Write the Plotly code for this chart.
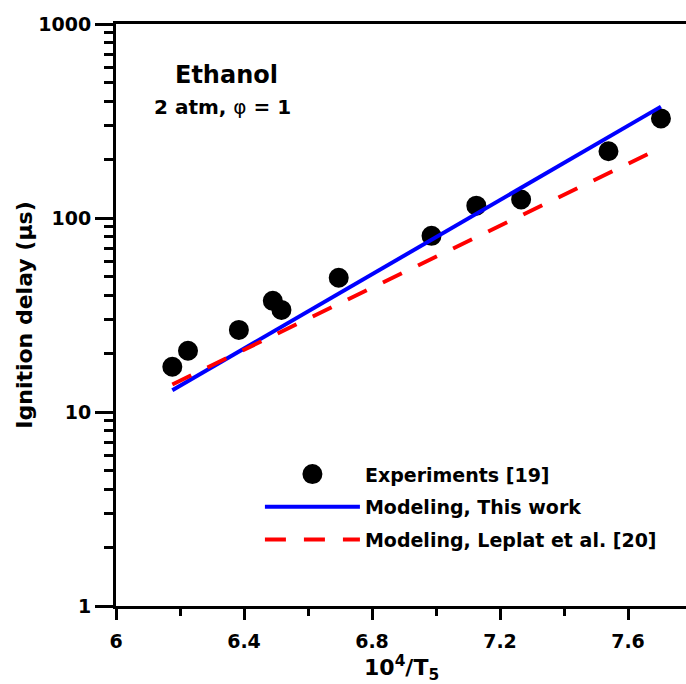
import plotly.graph_objects as go

# Experimental data (10^4/T5, ignition delay in microseconds)
exp_x = [6.176, 6.225, 6.384, 6.490, 6.517, 6.696, 6.986, 7.126, 7.266, 7.539, 7.703]
exp_y = [17.1, 20.7, 26.5, 37.4, 33.6, 49.2, 80.9, 115.8, 124.5, 220.8, 326.0]

# Modeling, this work
model_x = [6.176, 6.800, 7.703]
model_y = [12.96, 51.1, 375.0]

# Modeling, Leplat et al.
leplat_x = [6.176, 6.800, 7.703]
leplat_y = [13.87, 43.6, 230.0]

x_ticks = [6, 6.4, 6.8, 7.2, 7.6]
x_ticklabels = ["6", "6.4", "6.8", "7.2", "7.6"]
y_ticks = [1, 10, 100, 1000]
y_ticklabels = ["1", "10", "100", "1000"]

FONT = "DejaVu Sans"

fig = go.Figure()
fig.add_trace(go.Scatter(
    x=exp_x, y=exp_y, mode="markers", name="<b>Experiments [19]</b>",
    legendgroup="a",
    marker=dict(color="black", size=15, line=dict(color="black", width=5)),
))
fig.add_trace(go.Scatter(
    x=model_x, y=model_y, mode="lines", name="<b>Modeling, This work</b>",
    legendgroup="b",
    line=dict(color="#0000ff", width=4),
))
fig.add_trace(go.Scatter(
    x=leplat_x, y=leplat_y, mode="lines", name="<b>Modeling, Leplat et al. [20]</b>",
    legendgroup="c",
    line=dict(color="#ff0000", width=4, dash="21px,18px"),
))

W, H = 686, 684
L, T, B = 116, 24, 78

fig.update_layout(
    width=W, height=H,
    margin=dict(l=L, r=0, t=T, b=B, pad=0, autoexpand=False),
    paper_bgcolor="white", plot_bgcolor="white",
    font=dict(family=FONT, color="black", size=19),
    showlegend=True,
    legend=dict(
        x=0.2525, y=0.259, xanchor="left", yanchor="top",
        bgcolor="rgba(0,0,0,0)", borderwidth=0,
        font=dict(family=FONT, size=19, color="black"),
        itemwidth=95, traceorder="grouped", tracegroupgap=5,
    ),
    xaxis=dict(
        range=[6, 6 + (W - L) / 320.0],
        automargin=False,
        tickvals=x_ticks, ticktext=[f"<b>{t}</b>" for t in x_ticklabels],
        ticks="outside", ticklen=11, tickwidth=3, tickcolor="black",
        ticklabelstandoff=5,
        minor=dict(ticks="outside", ticklen=7, tickwidth=3, dtick=0.2, tickcolor="black"),
        showline=True, linewidth=3, linecolor="black", mirror=True,
        showgrid=False, zeroline=False,
        tickfont=dict(family=FONT, size=19, color="black"),
    ),
    yaxis=dict(
        type="log", range=[0, 3],
        automargin=False,
        tickvals=y_ticks, ticktext=[f"<b>{t}</b>" for t in y_ticklabels],
        ticks="outside", ticklen=18, tickwidth=3, tickcolor="black",
        minor=dict(ticks="outside", ticklen=9, tickwidth=3, dtick="D1", tickcolor="black"),
        showline=True, linewidth=3, linecolor="black", mirror=False,
        showgrid=False, zeroline=False,
        tickfont=dict(family=FONT, size=19, color="black"),
        title=dict(text="<b>Ignition delay (μs)</b>", font=dict(family=FONT, size=22), standoff=0),
    ),
    annotations=[
        dict(text="<b>Ethanol</b>", xref="paper", yref="paper",
             x=(226 - L) / (W - L), y=(606 - 75) / (606 - T), xanchor="center", yanchor="middle",
             showarrow=False, font=dict(family=FONT, size=24, color="black")),
        dict(text="<b>2 atm, </b>φ<b> = 1</b>", xref="paper", yref="paper",
             x=(222 - L) / (W - L), y=(606 - 107) / (606 - T), xanchor="center", yanchor="middle",
             showarrow=False, font=dict(family=FONT, size=20, color="black")),
        dict(text="<b>10<sup>4</sup>/T<sub>5</sub></b>", xref="paper", yref="paper",
             x=0.5, y=(606 - 650) / (606 - T), xanchor="center", yanchor="top",
             showarrow=False, font=dict(family=FONT, size=22, color="black")),
    ],
)

fig.write_html("out.html")
